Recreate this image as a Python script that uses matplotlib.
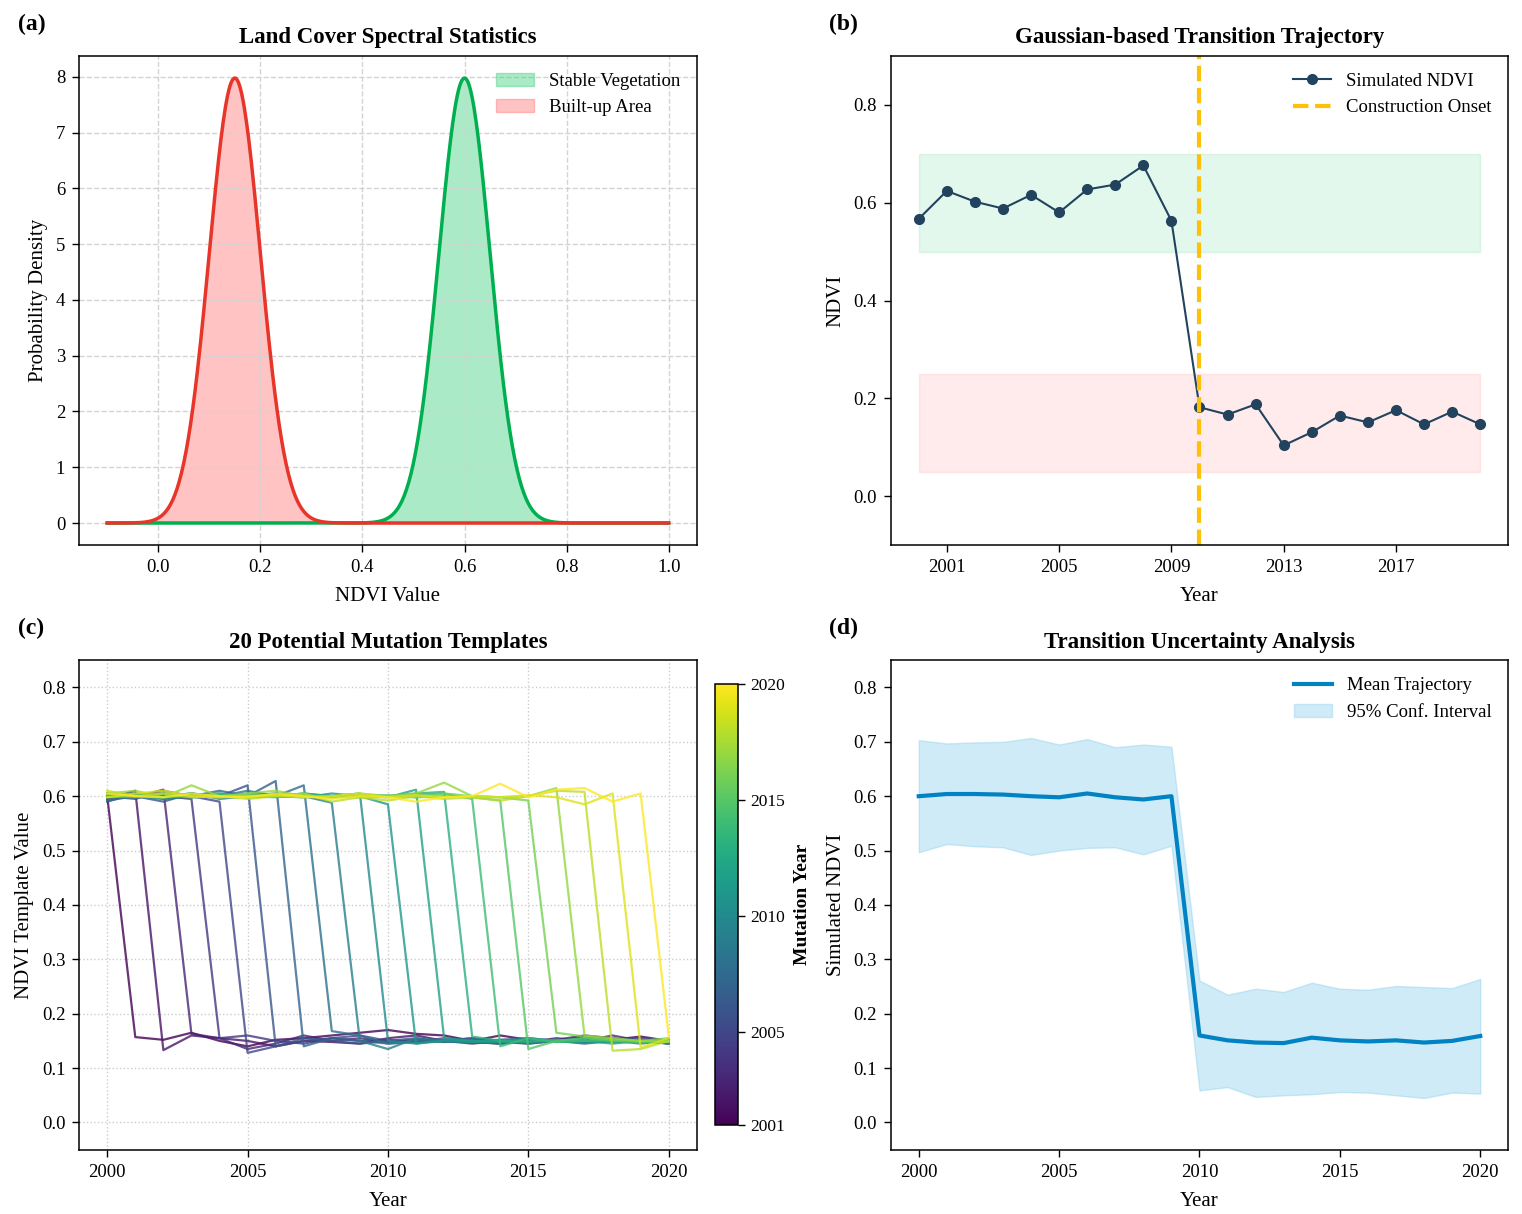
import numpy as np
import matplotlib
matplotlib.use("Agg")
import matplotlib.pyplot as plt
from matplotlib import cm, colors

plt.rcParams['font.family'] = ['Liberation Serif', 'DejaVu Serif']
plt.rcParams['font.size'] = 13
plt.rcParams['xtick.major.size'] = 5
plt.rcParams['ytick.major.size'] = 5
plt.rcParams['xtick.major.width'] = 1.0
plt.rcParams['ytick.major.width'] = 1.0
plt.rcParams['axes.linewidth'] = 1.1

# (a) class statistics
class_names = ['Stable Vegetation', 'Built-up Area']
class_means = [0.60, 0.15]
class_stds = [0.05, 0.05]
ndvi_range = [-0.1, 1.0]

# (b) simulated trajectory
years = list(range(2000, 2021))
sim_ndvi = [0.567, 0.624, 0.602, 0.588, 0.616, 0.580, 0.627, 0.637, 0.676, 0.563,
            0.182, 0.167, 0.188, 0.104, 0.131, 0.165, 0.151, 0.176, 0.147, 0.173, 0.147]
onset_year = 2010
veg_band = [0.5, 0.7]
built_band = [0.05, 0.25]

# (c) templates, one row per mutation year
mutation_years = list(range(2001, 2021))
templates = [
    [0.600, 0.157, 0.152, 0.165, 0.150, 0.140, 0.152, 0.155, 0.160, 0.165, 0.170, 0.163, 0.160, 0.150, 0.160, 0.152, 0.150, 0.155, 0.152, 0.158, 0.150],
    [0.595, 0.610, 0.133, 0.160, 0.155, 0.150, 0.140, 0.150, 0.148, 0.145, 0.155, 0.160, 0.150, 0.148, 0.145, 0.150, 0.152, 0.160, 0.155, 0.148, 0.152],
    [0.605, 0.598, 0.612, 0.163, 0.155, 0.135, 0.145, 0.160, 0.150, 0.155, 0.148, 0.152, 0.150, 0.145, 0.150, 0.148, 0.155, 0.150, 0.160, 0.150, 0.145],
    [0.590, 0.605, 0.600, 0.595, 0.155, 0.160, 0.150, 0.145, 0.155, 0.150, 0.152, 0.148, 0.150, 0.155, 0.148, 0.145, 0.150, 0.158, 0.150, 0.152, 0.148],
    [0.600, 0.595, 0.610, 0.600, 0.590, 0.128, 0.140, 0.150, 0.155, 0.160, 0.150, 0.148, 0.155, 0.150, 0.145, 0.150, 0.152, 0.148, 0.150, 0.155, 0.150],
    [0.595, 0.600, 0.590, 0.605, 0.600, 0.620, 0.140, 0.155, 0.150, 0.145, 0.150, 0.155, 0.148, 0.150, 0.152, 0.155, 0.150, 0.145, 0.150, 0.148, 0.152],
    [0.600, 0.605, 0.595, 0.600, 0.610, 0.600, 0.628, 0.140, 0.155, 0.150, 0.145, 0.148, 0.150, 0.155, 0.150, 0.148, 0.152, 0.150, 0.148, 0.150, 0.145],
    [0.592, 0.600, 0.605, 0.598, 0.600, 0.610, 0.600, 0.620, 0.168, 0.160, 0.145, 0.150, 0.148, 0.152, 0.150, 0.145, 0.150, 0.148, 0.155, 0.150, 0.148],
    [0.600, 0.598, 0.600, 0.605, 0.595, 0.600, 0.605, 0.600, 0.588, 0.150, 0.135, 0.155, 0.150, 0.148, 0.145, 0.150, 0.152, 0.148, 0.150, 0.145, 0.150],
    [0.605, 0.600, 0.595, 0.600, 0.605, 0.598, 0.600, 0.605, 0.600, 0.605, 0.150, 0.145, 0.152, 0.148, 0.150, 0.155, 0.150, 0.148, 0.150, 0.152, 0.145],
    [0.600, 0.605, 0.600, 0.598, 0.600, 0.605, 0.600, 0.598, 0.605, 0.600, 0.585, 0.145, 0.150, 0.148, 0.152, 0.150, 0.148, 0.150, 0.145, 0.150, 0.148],
    [0.598, 0.602, 0.600, 0.605, 0.598, 0.600, 0.605, 0.600, 0.598, 0.600, 0.598, 0.612, 0.155, 0.150, 0.148, 0.152, 0.150, 0.155, 0.150, 0.148, 0.150],
    [0.602, 0.598, 0.605, 0.600, 0.602, 0.598, 0.600, 0.605, 0.600, 0.602, 0.600, 0.605, 0.608, 0.158, 0.150, 0.148, 0.152, 0.150, 0.148, 0.150, 0.152],
    [0.600, 0.602, 0.598, 0.600, 0.605, 0.600, 0.598, 0.602, 0.600, 0.598, 0.600, 0.602, 0.605, 0.595, 0.140, 0.155, 0.148, 0.150, 0.152, 0.148, 0.150],
    [0.605, 0.600, 0.598, 0.602, 0.600, 0.598, 0.600, 0.602, 0.598, 0.600, 0.602, 0.598, 0.600, 0.598, 0.592, 0.135, 0.150, 0.155, 0.150, 0.148, 0.152],
    [0.598, 0.600, 0.605, 0.600, 0.598, 0.602, 0.600, 0.598, 0.600, 0.605, 0.600, 0.598, 0.605, 0.600, 0.598, 0.592, 0.165, 0.158, 0.152, 0.150, 0.155],
    [0.605, 0.610, 0.598, 0.620, 0.600, 0.605, 0.610, 0.600, 0.598, 0.602, 0.600, 0.605, 0.625, 0.600, 0.598, 0.600, 0.615, 0.160, 0.155, 0.150, 0.148],
    [0.610, 0.600, 0.605, 0.598, 0.600, 0.595, 0.600, 0.605, 0.590, 0.598, 0.592, 0.600, 0.595, 0.598, 0.592, 0.600, 0.610, 0.608, 0.132, 0.135, 0.150],
    [0.598, 0.605, 0.610, 0.600, 0.598, 0.600, 0.602, 0.598, 0.600, 0.605, 0.598, 0.602, 0.598, 0.600, 0.598, 0.602, 0.598, 0.585, 0.605, 0.138, 0.155],
    [0.605, 0.600, 0.598, 0.605, 0.600, 0.598, 0.605, 0.600, 0.595, 0.600, 0.598, 0.590, 0.598, 0.600, 0.623, 0.598, 0.612, 0.615, 0.590, 0.605, 0.160],
]

# (d) uncertainty
mean_traj = [0.600, 0.604, 0.604, 0.603, 0.600, 0.598, 0.605, 0.598, 0.594, 0.600,
             0.160, 0.151, 0.147, 0.146, 0.156, 0.151, 0.149, 0.151, 0.147, 0.150, 0.159]
ci_upper = [0.703, 0.697, 0.699, 0.700, 0.707, 0.695, 0.705, 0.690, 0.695, 0.691,
            0.261, 0.235, 0.246, 0.240, 0.257, 0.246, 0.244, 0.251, 0.249, 0.247, 0.264]
ci_lower = [0.497, 0.512, 0.508, 0.506, 0.492, 0.500, 0.505, 0.506, 0.493, 0.509,
            0.059, 0.065, 0.047, 0.050, 0.052, 0.056, 0.055, 0.050, 0.045, 0.055, 0.053]

fig, axes = plt.subplots(2, 2, figsize=(15.22, 12.14), dpi=100)
fig.subplots_adjust(left=0.052, right=0.991, top=0.954, bottom=0.053, wspace=0.314, hspace=0.235)
ax1, ax2, ax3, ax4 = axes.ravel()

title_kw = dict(fontsize=16.5, fontweight='bold', pad=9)
xlab_kw = dict(fontsize=15, labelpad=8)
ylab_kw = dict(fontsize=15, labelpad=5.5)
leg_fs = 13.5

# (a)
x = np.linspace(ndvi_range[0], ndvi_range[1], 500)
pdf_veg = np.exp(-0.5 * ((x - class_means[0]) / class_stds[0]) ** 2) / (class_stds[0] * np.sqrt(2 * np.pi))
pdf_built = np.exp(-0.5 * ((x - class_means[1]) / class_stds[1]) ** 2) / (class_stds[1] * np.sqrt(2 * np.pi))
ax1.fill_between(x, pdf_veg, color='#2ecc71', alpha=0.4, label=class_names[0])
ax1.fill_between(x, pdf_built, color='#ff6b6b', alpha=0.4, label=class_names[1])
ax1.plot(x, pdf_veg, color='#00b050', lw=2.5)
ax1.plot(x, pdf_built, color='#e8352a', lw=2.5)
ax1.grid(True, ls='--', color='#d3d3d3', lw=1)
ax1.set_title('Land Cover Spectral Statistics', **title_kw)
ax1.set_xlabel('NDVI Value', **xlab_kw)
ax1.set_ylabel('Probability Density', **ylab_kw)
ax1.legend(loc='upper right', frameon=False, fontsize=leg_fs)

# (b)
ax2.fill_between([years[0], years[-1]], veg_band[0], veg_band[1], color='#2ecc71', alpha=0.13)
ax2.fill_between([years[0], years[-1]], built_band[0], built_band[1], color='#ff6b6b', alpha=0.13)
ax2.plot(years, sim_ndvi, '-o', color='#22435e', lw=1.5, ms=7, label='Simulated NDVI')
ax2.axvline(onset_year, color='#ffc107', ls='--', lw=3, label='Construction Onset')
ax2.set_ylim(-0.1, 0.9)
ax2.set_xticks([2001, 2005, 2009, 2013, 2017])
ax2.set_yticks([0.0, 0.2, 0.4, 0.6, 0.8])
ax2.set_title('Gaussian-based Transition Trajectory', **title_kw)
ax2.set_xlabel('Year', **xlab_kw)
ax2.set_ylabel('NDVI', **ylab_kw)
ax2.legend(loc='upper right', frameon=False, fontsize=leg_fs)

# (c)
norm = colors.Normalize(vmin=mutation_years[0], vmax=mutation_years[-1])
cmap = plt.get_cmap('viridis')
for my, row in zip(mutation_years, templates):
    ax3.plot(years, row, color=cmap(norm(my)), lw=1.6, alpha=0.8)
ax3.grid(True, ls=':', color='#cccccc', lw=1)
ax3.set_ylim(-0.05, 0.85)
ax3.set_xticks([2000, 2005, 2010, 2015, 2020])
ax3.set_yticks(np.arange(0, 0.81, 0.1))
ax3.set_title('20 Potential Mutation Templates', **title_kw)
ax3.set_xlabel('Year', **xlab_kw)
ax3.set_ylabel('NDVI Template Value', **ylab_kw)
cax = fig.add_axes([715 / 1522, 1 - 1125 / 1214, 23 / 1522, 441 / 1214])
sm = cm.ScalarMappable(norm=norm, cmap=cmap)
cb = fig.colorbar(sm, cax=cax, ticks=[2001, 2005, 2010, 2015, 2020])
cb.ax.tick_params(labelsize=12.5)
cb.set_label('Mutation Year', fontsize=14, fontweight='bold', labelpad=7)

# (d)
ax4.fill_between(years, ci_lower, ci_upper, color='#87ceeb', alpha=0.4, label='95% Conf. Interval')
ax4.plot(years, mean_traj, color='#0082c3', lw=3, label='Mean Trajectory')
ax4.set_ylim(-0.05, 0.85)
ax4.set_xticks([2000, 2005, 2010, 2015, 2020])
ax4.set_yticks(np.arange(0, 0.81, 0.1))
ax4.set_title('Transition Uncertainty Analysis', **title_kw)
ax4.set_xlabel('Year', **xlab_kw)
ax4.set_ylabel('Simulated NDVI', **ylab_kw)
h, l = ax4.get_legend_handles_labels()
ax4.legend(h[::-1], l[::-1], loc='upper right', frameon=False, fontsize=leg_fs)

for ax in axes.ravel():
    ax.tick_params(labelsize=13.5, pad=5)

for lab, xp, yp in [('(a)', 18, 24), ('(b)', 829, 24), ('(c)', 18, 628), ('(d)', 829, 628)]:
    fig.text(xp / 1522, 1 - yp / 1214, lab, fontsize=17, fontweight='bold', va='center')

fig.savefig('out.png', dpi=100)
